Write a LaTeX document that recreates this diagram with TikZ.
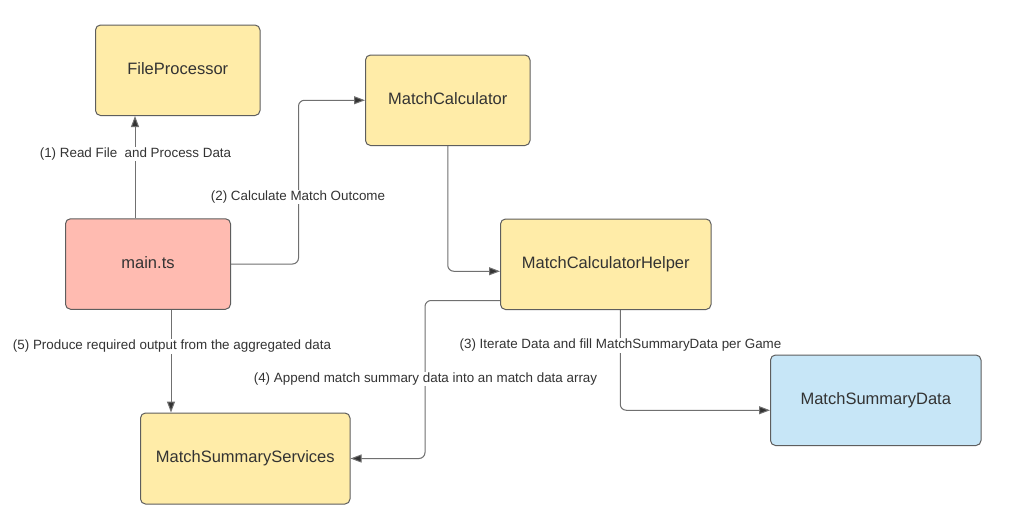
\documentclass[tikz,border=0pt]{standalone}
\usepackage{fontspec}
\setmainfont{Liberation Sans}
\usetikzlibrary{arrows.meta,calc}
\definecolor{boxyellow}{HTML}{FFECA8}
\definecolor{boxpink}{HTML}{FFBBB1}
\definecolor{boxblue}{HTML}{C7E6F7}
\definecolor{boxborder}{HTML}{5E5E5E}
\definecolor{connline}{HTML}{707070}
\definecolor{txt}{HTML}{333333}
\tikzset{
  box/.style={draw=boxborder, line width=1pt, rounded corners=5pt, minimum height=90.5pt,
    text=txt, font=\fontsize{16.5}{19}\selectfont, inner sep=0pt, text height=12pt, text depth=4pt},
  ybox/.style={box, fill=boxyellow},
  conn/.style={draw=connline, line width=1pt, rounded corners=6pt,
    -{Triangle[length=11pt,width=8pt,fill=txt]}},
  lbl/.style={fill=white, text=txt, inner sep=1pt, font=\fontsize{13.4}{15}\selectfont}
}
\begin{document}
\begin{tikzpicture}[x=1pt,y=-1pt]
\useasboundingbox[fill=white] (0,0) rectangle (1022,525);
\node[ybox, minimum width=164.5pt] (fp) at (177.75,70.25) {FileProcessor};
\node[ybox, minimum width=164.5pt] (mc) at (447.75,100.25) {MatchCalculator};
\node[box, fill=boxpink, minimum width=165pt] (main) at (148,264) {main.ts};
\node[ybox, minimum width=210.5pt] (helper) at (605.75,264.25) {MatchCalculatorHelper};
\node[box, fill=boxblue, minimum width=210.5pt] (msd) at (875.75,400.25) {MatchSummaryData};
\node[ybox, minimum width=209.5pt, minimum height=91pt] (mss) at (245.25,458.5) {MatchSummaryServices};

\draw[conn] ([xshift=70pt]main.north west) -- ([xshift=70pt]main.north west |- fp.south);
\draw[conn] (main.east) -- ++(67.5,0) |- (mc.west);
\draw[conn] (mc.south) |- ([yshift=-7pt]helper.west);
\draw[conn] ([yshift=9.5pt]helper.south west) -- ++(-75,0) |- (mss.east);
\draw[conn] ([xshift=14.5pt]helper.south) |- ([yshift=-10pt]msd.west);
\draw[conn] ([xshift=23pt]main.south) -- ([xshift=23pt]main.south |- mss.north);

\node[lbl] (l1) at (135.5,154) {(1) Read File\ \ and Process Data};
\node[lbl] (l2) at (298,197) {(2) Calculate Match Outcome};
\node[lbl] (l3) at (620.5,345.5) {(3) Iterate Data and fill MatchSummaryData per Game};
\node[lbl] (l4) at (425.5,379) {(4) Append match summary data into an match data array};
\node[lbl] (l5) at (172,346.5) {(5) Produce required output from the aggregated data};
\end{tikzpicture}
\end{document}
